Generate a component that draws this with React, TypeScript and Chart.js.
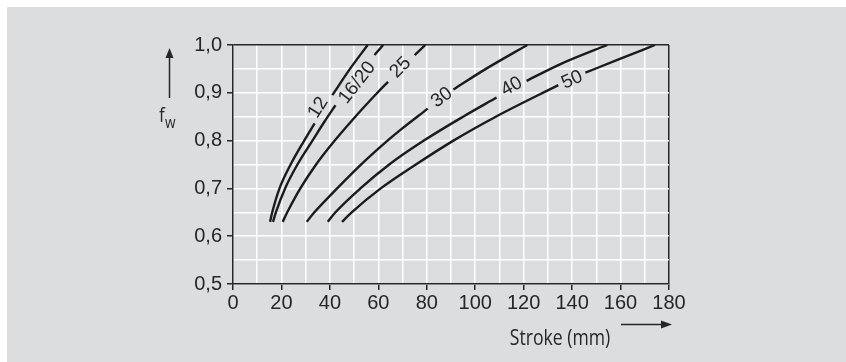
import React, { useEffect, useRef } from 'react';
import { Chart, registerables } from 'chart.js';

Chart.register(...registerables);

// ---- data (null marks the gap where the curve's label sits) ----
const curveNames = ['12', '16/20', '25', '30', '40', '50'];

const x12 = [15.3, 16.2, 19.2, 23.8, 29.4, 33.7, null, 41.0, 48.3, 55.6];
const y12 = [0.63, 0.65, 0.70, 0.75, 0.80, 0.836, null, 0.895, 0.95, 1.0];

const x1620 = [16.5, 17.7, 21.5, 26.6, 32.8, 37.8, 42.3, null, 58.4, 62.0];
const y1620 = [0.63, 0.65, 0.70, 0.75, 0.80, 0.84, 0.874, null, 0.979, 1.0];

const x25 = [20.5, 22.4, 27.8, 34.3, 42.0, 50.5, 59.6, 64.0, null, 75.0, 79.4];
const y25 = [0.63, 0.65, 0.70, 0.75, 0.80, 0.85, 0.90, 0.923, null, 0.979, 1.0];

const x30 = [30.4, 33.6, 43.0, 55.0, 63.8, 69.0, 80.4, null, 91.0, 104.4, 121.5];
const y30 = [0.63, 0.65, 0.70, 0.76, 0.80, 0.822, 0.867, null, 0.907, 0.95, 1.0];

const x40 = [39.1, 42.3, 52.6, 64.5, 78.8, 95.0, 108.8, null, 121.2, 135.2, 154.5];
const y40 = [0.63, 0.65, 0.70, 0.75, 0.80, 0.85, 0.89, null, 0.925, 0.96, 1.0];

const x50 = [45.0, 49.0, 61.0, 75.5, 91.0, 108.5, 134.3, null, 145.5, 159.2, 174.2];
const y50 = [0.63, 0.65, 0.70, 0.75, 0.80, 0.85, 0.916, null, 0.942, 0.97, 1.0];

// label centres along each curve
const labelX = [35.2, 51.3, 69.2, 86.2, 115.1, 140.0];
const labelY = [0.869, 0.921, 0.953, 0.890, 0.913, 0.927];

const xTickLabels = ['0', '20', '40', '60', '80', '100', '120', '140', '160', '180'];
const yTickLabels = ['0,5', '0,6', '0,7', '0,8', '0,9', '1,0'];

const xTitle = 'Stroke (mm)';
const yTitleMain = 'f';
const yTitleSub = 'w';

// ---- styling ----
const BG = 'rgb(220,221,223)';
const DARK = '#262626';
const LINE = '#1b1b1b';
const TICK_FONT = { family: '"Liberation Sans", Arial, Helvetica, sans-serif', size: 20 };
const TRANSPARENT = 'rgba(0,0,0,0)';

const curvesX = [x12, x1620, x25, x30, x40, x50];
const curvesY = [y12, y1620, y25, y30, y40, y50];

function splitSegments(xs: (number | null)[], ys: (number | null)[]) {
  const segs: { x: number; y: number }[][] = [[]];
  xs.forEach((xv, i) => {
    const yv = ys[i];
    if (xv === null || yv === null) segs.push([]);
    else segs[segs.length - 1].push({ x: xv, y: yv });
  });
  return segs.filter((s) => s.length > 0);
}

const decorPlugin = {
  id: 'decor',
  beforeDraw(chart: any) {
    const ctx = chart.ctx;
    ctx.save();
    ctx.fillStyle = '#ffffff';
    ctx.fillRect(0, 0, chart.width, chart.height);
    ctx.fillStyle = BG;
    ctx.fillRect(7, 7, chart.width - 7, chart.height - 7);
    ctx.restore();
  },
  afterDraw(chart: any) {
    const ctx = chart.ctx;
    const xs = chart.scales.x;
    const ys = chart.scales.y;
    const area = chart.chartArea;

    // curve labels
    curveNames.forEach((name, k) => {
      const cx = curvesX[k];
      const cy = curvesY[k];
      const gi = cx.indexOf(null);
      const px0 = xs.getPixelForValue(cx[gi - 1] as number);
      const py0 = ys.getPixelForValue(cy[gi - 1] as number);
      const px1 = xs.getPixelForValue(cx[gi + 1] as number);
      const py1 = ys.getPixelForValue(cy[gi + 1] as number);
      const ang = Math.atan2(py1 - py0, px1 - px0);
      ctx.save();
      ctx.translate(xs.getPixelForValue(labelX[k]), ys.getPixelForValue(labelY[k]));
      ctx.rotate(ang);
      ctx.font = '19px "Liberation Sans", Arial, sans-serif';
      ctx.fillStyle = DARK;
      ctx.textAlign = 'center';
      ctx.textBaseline = 'middle';
      ctx.fillText(name, 0, 0);
      ctx.restore();
    });

    ctx.save();
    ctx.strokeStyle = DARK;
    ctx.fillStyle = DARK;
    ctx.lineWidth = 1.5;

    // y arrow (up)
    const ax = area.left - 63.5;
    ctx.beginPath();
    ctx.moveTo(ax, area.top + 53);
    ctx.lineTo(ax, area.top + 11);
    ctx.stroke();
    ctx.beginPath();
    ctx.moveTo(ax, area.top + 3);
    ctx.lineTo(ax - 4, area.top + 13);
    ctx.lineTo(ax + 4, area.top + 13);
    ctx.closePath();
    ctx.fill();

    // y title f_w
    ctx.font = '20px "Open Sans", sans-serif';
    ctx.textAlign = 'left';
    ctx.textBaseline = 'alphabetic';
    ctx.save();
    ctx.translate(area.left - 74, area.top + 77);
    ctx.scale(0.85, 1);
    ctx.fillText(yTitleMain, 0, 0);
    ctx.restore();
    ctx.font = '16px "Open Sans", sans-serif';
    ctx.save();
    ctx.translate(area.left - 68, area.top + 83);
    ctx.scale(0.85, 1);
    ctx.fillText(yTitleSub, 0, 0);
    ctx.restore();

    // x arrow (right)
    const ay = area.bottom + 40.5;
    ctx.beginPath();
    ctx.moveTo(area.right - 48, ay);
    ctx.lineTo(area.right - 8, ay);
    ctx.stroke();
    ctx.beginPath();
    ctx.moveTo(area.right + 3, ay);
    ctx.lineTo(area.right - 8, ay - 4);
    ctx.lineTo(area.right - 8, ay + 4);
    ctx.closePath();
    ctx.fill();

    // x title
    ctx.font = '22px "Open Sans", sans-serif';
    ctx.textAlign = 'center';
    ctx.save();
    ctx.translate(area.left + 327, area.bottom + 61);
    ctx.scale(0.8, 1);
    ctx.fillText(xTitle, 0, 0);
    ctx.restore();

    ctx.restore();
  },
};

export default function App() {
  const canvasRef = useRef<HTMLCanvasElement | null>(null);

  useEffect(() => {
    const canvas = canvasRef.current;
    if (!canvas) return;

    const datasets: any[] = [];
    curvesX.forEach((cx, k) => {
      splitSegments(cx, curvesY[k]).forEach((seg) => {
        datasets.push({
          label: curveNames[k],
          data: seg,
          showLine: true,
          borderColor: LINE,
          borderWidth: 2.4,
          pointRadius: 0,
          cubicInterpolationMode: 'monotone',
          fill: false,
        });
      });
    });

    const chart = new Chart(canvas, {
      type: 'scatter',
      data: { datasets },
      plugins: [decorPlugin],
      options: {
        animation: false,
        responsive: false,
        devicePixelRatio: 1,
        layout: { padding: { top: 45, right: 177, bottom: 0, left: 0 } },
        plugins: { legend: { display: false }, tooltip: { enabled: false } },
        scales: {
          x: {
            type: 'linear',
            min: 0,
            max: 180,
            afterFit: (s: any) => {
              s.height = 78;
            },
            ticks: {
              stepSize: 10,
              autoSkip: false,
              maxRotation: 0,
              padding: 1,
              color: DARK,
              font: TICK_FONT,
              callback: (v: any) => {
                const n = Math.round(Number(v));
                return n % 20 === 0 ? xTickLabels[n / 20] : '';
              },
            },
            grid: {
              color: (c: any) => (c.tick && c.tick.value >= 180 ? DARK : '#ffffff'),
              lineWidth: 1.5,
              tickLength: 6,
              tickWidth: 1.5,
              tickColor: (c: any) =>
                c.tick && Math.round(c.tick.value) % 20 === 0 ? DARK : TRANSPARENT,
            },
            border: { color: DARK, width: 1.5 },
          },
          y: {
            type: 'linear',
            min: 0.5,
            max: 1.0,
            afterFit: (s: any) => {
              s.width = 233;
            },
            ticks: {
              stepSize: 0.05,
              autoSkip: false,
              padding: 5,
              color: DARK,
              font: TICK_FONT,
              callback: (v: any) => {
                const r = Math.round(Number(v) * 100);
                return r % 10 === 0 ? yTickLabels[(r - 50) / 10] : '';
              },
            },
            grid: {
              color: (c: any) => (c.tick && c.tick.value >= 0.999 ? DARK : '#ffffff'),
              lineWidth: 1.5,
              tickLength: 6,
              tickWidth: 1.5,
              tickColor: (c: any) =>
                c.tick && Math.round(c.tick.value * 100) % 10 === 0 ? DARK : TRANSPARENT,
            },
            border: { color: DARK, width: 1.5 },
          },
        },
      },
    });

    return () => chart.destroy();
  }, []);

  return (
    <div style={{ position: 'fixed', left: 0, top: 0, width: 846, height: 362 }}>
      <canvas ref={canvasRef} width={846} height={362} style={{ display: 'block' }} />
    </div>
  );
}
